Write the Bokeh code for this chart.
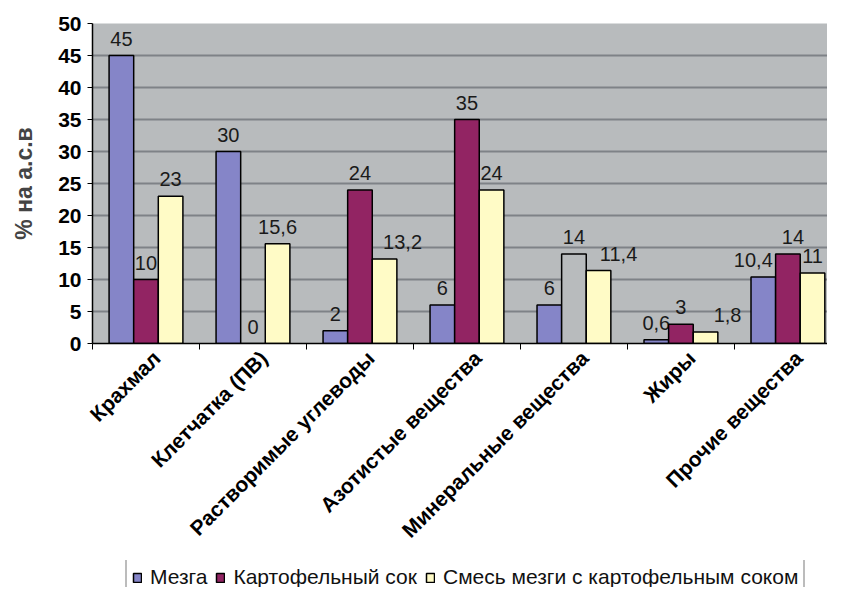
from math import pi
from bokeh.plotting import figure
from bokeh.layouts import column
from bokeh.models import ColumnDataSource, Range1d, FixedTicker, Legend, LegendItem
from bokeh.core.properties import value
from bokeh.embed import file_html
from bokeh.resources import INLINE

categories = ["Крахмал", "Клетчатка (ПВ)", "Растворимые углеводы", "Азотистые вещества",
              "Минеральные вещества", "Жиры", "Прочие вещества"]
series_names = ["Мезга", "Картофельный сок", "Смесь мезги с картофельным соком"]
mezga = [45, 30, 2, 6, 6, 0.6, 10.4]
sok = [10, 0, 24, 35, 14, 3, 14]
smes = [23, 15.6, 13.2, 24, 11.4, 1.8, 11]
y_ticks = [0, 5, 10, 15, 20, 25, 30, 35, 40, 45, 50]

# styles
series_colors = ["#8585C8", "#922463", "#FFFBC6"]
bg = "#B8BBBD"
special_fill = {(1, "Минеральные вещества"): bg}
label_nudge = {(2, "Растворимые углеводы"): 18, (2, "Минеральные вещества"): 20,
               (2, "Жиры"): 22, (0, "Прочие вещества"): -10, (1, "Прочие вещества"): 5}
FONT = "Liberation Sans"

n = len(categories)
bar_w = 0.23
offsets = [-bar_w, 0.0, bar_w]
label_shift = 0.1  # category labels sit slightly right of the group centre

p = figure(width=827, height=560, output_backend="svg", toolbar_location=None,
           x_range=Range1d(0, 6.87), y_range=Range1d(0, 50),
           min_border_left=92, min_border_right=0, min_border_top=23, min_border_bottom=217)
p.background_fill_color = bg
p.border_fill_color = "white"
p.outline_line_color = None

for s, vals in enumerate([mezga, sok, smes]):
    xs = [i + 0.5 + offsets[s] for i in range(n)]
    fills = [special_fill.get((s, c), series_colors[s]) for c in categories]
    src = ColumnDataSource(dict(x=xs, top=vals, fill=fills,
                                txt=[f"{v:g}".replace(".", ",") for v in vals],
                                dx=[label_nudge.get((s, c), 0) for c in categories]))
    p.vbar(x="x", top="top", bottom=0, width=bar_w, source=src,
           fill_color="fill", line_color="black", line_width=1.5)
    p.text(x="x", y="top", text="txt", source=src, x_offset="dx", y_offset=-17,
           text_align="center", text_baseline="alphabetic",
           text_font=value(FONT), text_font_size="20px", text_color="#1a1a1a")

# grid
p.xgrid.visible = False
p.ygrid.grid_line_color = "#7E8287"
p.ygrid.grid_line_width = 2

# y axis
p.yaxis.ticker = FixedTicker(ticks=y_ticks)
p.yaxis.axis_label = "% на а.с.в"
p.yaxis.axis_label_text_font = FONT
p.yaxis.axis_label_text_font_style = "bold"
p.yaxis.axis_label_text_font_size = "23px"
p.yaxis.axis_label_standoff = 18
p.yaxis.major_label_text_font = FONT
p.yaxis.major_label_text_font_style = "bold"
p.yaxis.major_label_text_font_size = "21px"
p.yaxis.major_label_text_color = "black"
p.yaxis.major_label_standoff = 6
p.yaxis.major_tick_out = 5
p.yaxis.major_tick_in = 0
p.yaxis.minor_tick_line_color = None
p.yaxis.axis_line_color = "black"
p.yaxis.axis_line_width = 1.5
p.yaxis.major_tick_line_color = "black"

# x axis
centers = [i + 0.5 + label_shift for i in range(n)]
p.xaxis.ticker = FixedTicker(ticks=centers, minor_ticks=list(range(n + 1)))
p.xaxis.major_label_overrides = {c: name for c, name in zip(centers, categories)}
p.xaxis.major_label_orientation = pi / 4
p.xaxis.major_label_text_font = FONT
p.xaxis.major_label_text_font_style = "bold"
p.xaxis.major_label_text_font_size = "21px"
p.xaxis.major_label_text_color = "black"
p.xaxis.major_label_standoff = 5
p.xaxis.major_tick_out = 0
p.xaxis.major_tick_in = 0
p.xaxis.minor_tick_out = 6
p.xaxis.minor_tick_in = 0
p.xaxis.minor_tick_line_color = "black"
p.xaxis.axis_line_color = "black"
p.xaxis.axis_line_width = 1.5

# legend strip below the chart
lg = figure(width=827, height=27, output_backend="svg", toolbar_location=None,
            x_axis_type=None, y_axis_type=None, x_range=Range1d(0, 1), y_range=Range1d(0, 1),
            min_border_left=92, min_border_right=0, min_border_top=0, min_border_bottom=0)
lg.outline_line_color = None
lg.background_fill_color = "white"
lg.border_fill_color = "white"
lg.grid.visible = False
items = []
for nm, col in zip(series_names, series_colors):
    r = lg.vbar(x=[0.5], top=[0.5], bottom=[0.5], width=0, fill_color=col,
                line_color="black", line_width=1.5)
    items.append(LegendItem(label=nm, renderers=[r]))
legend = Legend(items=items, location=(33, -9), orientation="horizontal")
legend.label_text_font = FONT
legend.label_text_font_size = "21px"
legend.label_text_color = "#111111"
legend.label_standoff = 8
legend.glyph_width = 10
legend.glyph_height = 11
legend.spacing = 8
legend.padding = 5
legend.margin = 0
legend.border_line_color = "#7A7A7A"
legend.border_line_width = 2
legend.background_fill_color = "white"
legend.background_fill_alpha = 1
lg.add_layout(legend, "center")

layout = column(p, lg, spacing=0)
open("out.html", "w").write(file_html(layout, INLINE))
